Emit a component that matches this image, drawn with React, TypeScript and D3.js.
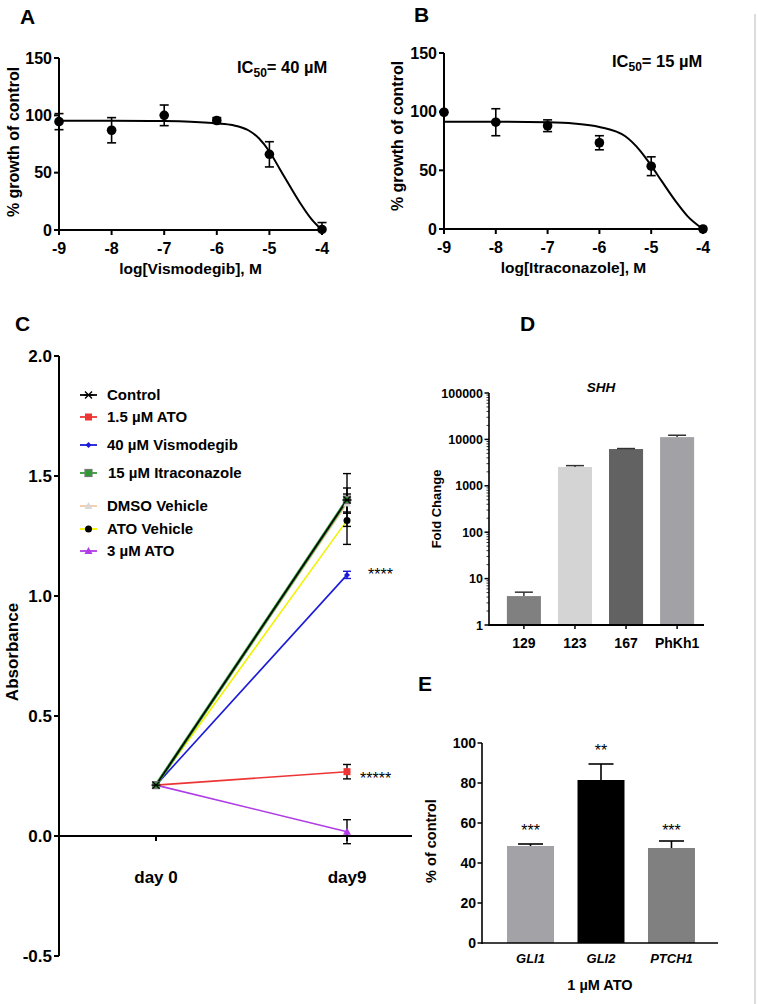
import React from "react";
import * as d3 from "d3";

const FONT = "Arial, 'Liberation Sans', Helvetica, sans-serif";

// ---------- Panel A (Vismodegib) ----------
const doseA = [-9, -8, -7, -6, -5, -4];
const growthA = [94.5, 87, 100, 95.5, 66, 0.5];
const errA = [7, 11, 9, 2.5, 11, 6];
const fitXA = [-9, -8, -7, -6.5, -6, -5.7, -5.4, -5.2, -5, -4.8, -4.6, -4.4, -4.2, -4];
const fitYA = [95.2, 95.2, 95, 94.5, 93, 91.5, 87, 80, 68.5, 53, 37.5, 22.5, 9.5, 0];

// ---------- Panel B (Itraconazole) ----------
const doseB = [-9, -8, -7, -6, -5, -4];
const growthB = [99.5, 91, 88, 73.5, 53.5, 0];
const errB = [0, 11.5, 5, 6, 8, 0];
const fitXB = [-9, -8, -7, -6.5, -6, -5.5, -5.2, -5, -4.8, -4.5, -4.3, -4];
const fitYB = [91.5, 91.5, 91, 90, 87, 79, 66, 54, 41, 22, 11, 0];

const xTicksAB = [-9, -8, -7, -6, -5, -4];
const yTicksAB = [0, 50, 100, 150];

// ---------- Panel C (Absorbance) ----------
const days = ["day 0", "day9"];
const cSeries = [
  "Control",
  "1.5 µM ATO",
  "40 µM Vismodegib",
  "15  µM Itraconazole",
  "DMSO Vehicle",
  "ATO Vehicle",
  "3 µM ATO",
];
const cColors = ["#000000", "#ee3535", "#1a1ad8", "#2f9a35", "#f4c9a4", "#f2f200", "#b03ce6"];
const cMarkers = ["x", "square", "diamond", "squareG", "triangleL", "circle", "triangle"];
const day0Values = [0.212, 0.212, 0.212, 0.212, 0.212, 0.212, 0.212];
const day9Values = [1.4, 0.268, 1.088, 1.4, 1.385, 1.315, 0.018];
const day9Errors = [0.11, 0.03, 0.015, 0.05, 0.04, 0.1, 0.05];
const cYTicks = [2.0, 1.5, 1.0, 0.5, 0.0, -0.5];
const cStars = [
  { series: "40 µM Vismodegib", text: "****" },
  { series: "1.5 µM ATO", text: "*****" },
];

// ---------- Panel D (SHH fold change) ----------
const cellLines = ["129", "123", "167", "PhKh1"];
const foldChange = [4.2, 2540, 6200, 11200];
const foldErr = [0.9, 180, 150, 1100];
const foldColors = ["#808080", "#d4d4d4", "#626262", "#a2a2a6"];
const dTicks = [1, 10, 100, 1000, 10000, 100000];

// ---------- Panel E (% of control) ----------
const genes = ["GLI1", "GLI2", "PTCH1"];
const pctControl = [48.5, 81.5, 47.5];
const pctErr = [1, 8, 3.5];
const geneStars = ["***", "**", "***"];
const geneColors = ["#a3a3a7", "#000000", "#808080"];
const eTicks = [0, 20, 40, 60, 80, 100];

function Marker({ type, x, y, color }: { type: string; x: number; y: number; color: string }) {
  const s = 3.5;
  switch (type) {
    case "x":
      return (
        <path
          d={`M${x - s},${y - s}L${x + s},${y + s}M${x - s},${y + s}L${x + s},${y - s}M${x - s - 1},${y}L${x + s + 1},${y}`}
          stroke={color}
          strokeWidth={1.4}
          fill="none"
        />
      );
    case "square":
      return <rect x={x - s} y={y - s} width={2 * s} height={2 * s} fill={color} />;
    case "squareG":
      return <rect x={x - s} y={y - s} width={2 * s} height={2 * s} fill={color} stroke="#777" strokeWidth={1.2} />;
    case "diamond":
      return <path d={`M${x},${y - 3}L${x + 3},${y}L${x},${y + 3}L${x - 3},${y}Z`} fill={color} />;
    case "circle":
      return <circle cx={x} cy={y} r={3.5} fill="#000" />;
    case "triangle":
      return <path d={`M${x},${y - 4}L${x + 4},${y + 3}L${x - 4},${y + 3}Z`} fill={color} />;
    case "triangleL":
      return <path d={`M${x},${y - 4}L${x + 4},${y + 3}L${x - 4},${y + 3}Z`} fill="#d8d8d8" />;
    default:
      return null;
  }
}

function DosePanel(props: {
  xs: number[];
  ys: number[];
  es: number[];
  fx: number[];
  fy: number[];
  xScale: d3.ScaleLinear<number, number>;
  yScale: d3.ScaleLinear<number, number>;
  xTitle: string;
  ic50: string;
  ic50X: number;
  ic50Y: number;
  yTitleX: number;
  yTitleY: number;
}) {
  const { xs, ys, es, fx, fy, xScale, yScale } = props;
  const x0 = xScale(xTicksAB[0]);
  const y0 = yScale(0);
  const line = d3
    .line<number>()
    .x((_, i) => xScale(fx[i]))
    .y((d) => yScale(d))
    .curve(d3.curveMonotoneX);
  return (
    <g>
      <line x1={x0} x2={x0} y1={y0 + 1} y2={yScale(150)} stroke="#000" strokeWidth={2} />
      <line x1={x0 - 1} x2={xScale(-4)} y1={y0} y2={y0} stroke="#000" strokeWidth={2} />
      {yTicksAB.map((t) => (
        <g key={t}>
          <line x1={x0 - 5} x2={x0} y1={yScale(t)} y2={yScale(t)} stroke="#000" strokeWidth={2} />
          <text x={x0 - 7} y={yScale(t)} dy="0.36em" textAnchor="end" fontSize={16} fontWeight="bold">
            {t}
          </text>
        </g>
      ))}
      {xTicksAB.map((t) => (
        <g key={t}>
          <line x1={xScale(t)} x2={xScale(t)} y1={y0} y2={y0 + 5} stroke="#000" strokeWidth={2} />
          <text x={xScale(t)} y={y0 + 24} textAnchor="middle" fontSize={16} fontWeight="bold">
            {t}
          </text>
        </g>
      ))}
      <text x={(x0 + xScale(-4)) / 2} y={y0 + 44} textAnchor="middle" fontSize={15.5} fontWeight="bold">
        {props.xTitle}
      </text>
      <text
        transform={`translate(${props.yTitleX},${props.yTitleY}) rotate(-90)`}
        textAnchor="middle"
        dy="0.36em"
        fontSize={16}
        fontWeight="bold"
      >
        % growth of control
      </text>
      <text x={props.ic50X} y={props.ic50Y} fontSize={16.5} fontWeight="bold">
        IC
        <tspan fontSize={12} dy={4}>
          50
        </tspan>
        <tspan dy={-4}>{"= " + props.ic50}</tspan>
      </text>
      <path d={line(fy) || ""} fill="none" stroke="#000" strokeWidth={2} />
      {xs.map((xv, i) => {
        const cx = xScale(xv);
        const lo = yScale(Math.max(0, ys[i] - es[i]));
        const hi = yScale(ys[i] + es[i]);
        return (
          <g key={i}>
            {es[i] > 0 && (
              <g stroke="#000" strokeWidth={1.6}>
                <line x1={cx} x2={cx} y1={lo} y2={hi} />
                <line x1={cx - 4.5} x2={cx + 4.5} y1={hi} y2={hi} />
                {ys[i] - es[i] > 0 && <line x1={cx - 4.5} x2={cx + 4.5} y1={lo} y2={lo} />}
              </g>
            )}
            <circle cx={cx} cy={yScale(ys[i])} r={4.8} fill="#000" />
          </g>
        );
      })}
    </g>
  );
}

export default function App() {
  // Panels A & B
  const xA = d3.scaleLinear().domain([-9, -4]).range([59, 322]);
  const yA = d3.scaleLinear().domain([0, 150]).range([230, 58]);
  const xB = d3.scaleLinear().domain([-9, -4]).range([444, 703]);
  const yB = d3.scaleLinear().domain([0, 150]).range([229, 53]);

  // Panel C
  const yC = d3.scaleLinear().domain([-0.5, 2.0]).range([956, 356]);
  const xC = d3.scalePoint<string>().domain(days).range([156, 347]);
  const cAxisX = 59;
  const legendY = [395, 417, 445, 473, 506, 529, 551];
  const drawOrder = [6, 1, 2, 4, 5, 3, 0];

  // Panel D
  const yD = d3.scaleLog().domain([1, 100000]).range([625, 393]);
  const xD = d3.scaleBand<string>().domain(cellLines).range([489, 712]).paddingInner(1 / 3).paddingOuter(0.35);
  const dAxisX = 489;
  const minorD: number[] = [];
  for (let dec = 1; dec < 100000; dec *= 10) {
    for (let m = 2; m <= 9; m++) minorD.push(dec * m);
  }

  // Panel E
  const yE = d3.scaleLinear().domain([0, 100]).range([943, 743]);
  const xE = d3.scaleBand<string>().domain(genes).range([482, 720]).paddingInner(1 / 3).paddingOuter(0.355);
  const eAxisX = 482;

  return (
    <div style={{ position: "absolute", left: 0, top: 0, width: 758, height: 1004, background: "#fff" }}>
      <svg width={758} height={1004} style={{ display: "block" }} fontFamily={FONT}>
        <rect width={758} height={1004} fill="#fff" />
        <line x1={755} x2={755} y1={14} y2={1004} stroke="#dcdcdc" strokeWidth={2} />

        {/* Panel labels */}
        <text x={20} y={24} fontSize={21} fontWeight="bold">A</text>
        <text x={414} y={22} fontSize={21} fontWeight="bold">B</text>
        <text x={15} y={331} fontSize={21} fontWeight="bold">C</text>
        <text x={520} y={331} fontSize={21} fontWeight="bold">D</text>
        <text x={418} y={691} fontSize={21} fontWeight="bold">E</text>

        <DosePanel
          xs={doseA}
          ys={growthA}
          es={errA}
          fx={fitXA}
          fy={fitYA}
          xScale={xA}
          yScale={yA}
          xTitle="log[Vismodegib], M"
          ic50="40 µM"
          ic50X={237}
          ic50Y={73}
          yTitleX={13}
          yTitleY={142}
        />
        <DosePanel
          xs={doseB}
          ys={growthB}
          es={errB}
          fx={fitXB}
          fy={fitYB}
          xScale={xB}
          yScale={yB}
          xTitle="log[Itraconazole], M"
          ic50="15 µM"
          ic50X={612}
          ic50Y={67}
          yTitleX={397}
          yTitleY={136}
        />

        {/* Panel C */}
        <g>
          <line x1={cAxisX} x2={cAxisX} y1={yC(-0.5)} y2={yC(2.0)} stroke="#000" strokeWidth={2} />
          {cYTicks.map((t) => (
            <g key={t}>
              <line x1={cAxisX - 5} x2={cAxisX} y1={yC(t)} y2={yC(t)} stroke="#000" strokeWidth={2} />
              <text x={cAxisX - 7} y={yC(t)} dy="0.36em" textAnchor="end" fontSize={17} fontWeight="bold">
                {t.toFixed(1)}
              </text>
            </g>
          ))}
          <line x1={cAxisX} x2={412} y1={yC(0)} y2={yC(0)} stroke="#000" strokeWidth={2} />
          {days.map((d) => (
            <g key={d}>
              <line x1={xC(d)!} x2={xC(d)!} y1={yC(0)} y2={yC(0) + 5} stroke="#000" strokeWidth={2} />
              <text x={xC(d)!} y={yC(0) + 47} textAnchor="middle" fontSize={17} fontWeight="bold">
                {d}
              </text>
            </g>
          ))}
          <text
            transform={`translate(12,${652}) rotate(-90)`}
            textAnchor="middle"
            dy="0.36em"
            fontSize={17}
            fontWeight="bold"
          >
            Absorbance
          </text>

          {/* series lines */}
          {drawOrder.map((i) => (
            <line
              key={"l" + i}
              x1={xC(days[0])!}
              y1={yC(day0Values[i])}
              x2={xC(days[1])!}
              y2={yC(day9Values[i])}
              stroke={cColors[i]}
              strokeWidth={i === 3 ? 3.2 : i === 0 ? 1.6 : 1.6}
            />
          ))}
          {/* error bars day9 */}
          {drawOrder.map((i) => {
            const cx = xC(days[1])!;
            const hi = yC(day9Values[i] + day9Errors[i]);
            const lo = yC(day9Values[i] - day9Errors[i]);
            const col = i === 2 ? cColors[2] : "#000";
            return (
              <g key={"e" + i} stroke={col} strokeWidth={1.4}>
                <line x1={cx} x2={cx} y1={lo} y2={hi} />
                <line x1={cx - 4} x2={cx + 4} y1={hi} y2={hi} />
                <line x1={cx - 4} x2={cx + 4} y1={lo} y2={lo} />
              </g>
            );
          })}
          {/* markers */}
          {drawOrder.map((i) => (
            <g key={"m" + i}>
              <Marker type={cMarkers[i]} x={xC(days[0])!} y={yC(day0Values[i])} color={cColors[i]} />
              <Marker type={cMarkers[i]} x={xC(days[1])!} y={yC(day9Values[i])} color={cColors[i]} />
            </g>
          ))}
          {/* significance stars */}
          {cStars.map((s, k) => {
            const i = cSeries.indexOf(s.series);
            return (
              <text
                key={k}
                x={xC(days[1])! + (k === 0 ? 21 : 13)}
                y={yC(day9Values[i]) + (k === 0 ? 5 : 12)}
                fontSize={16}
              >
                {s.text}
              </text>
            );
          })}
          {/* legend */}
          {cSeries.map((name, i) => (
            <g key={"lg" + i}>
              <line x1={80} x2={97} y1={legendY[i]} y2={legendY[i]} stroke={cColors[i]} strokeWidth={1.8} />
              <Marker type={cMarkers[i]} x={88.5} y={legendY[i]} color={cColors[i]} />
              <text x={i === 3 ? 108 : 107} y={legendY[i]} dy="0.36em" fontSize={15} fontWeight="bold">
                {name}
              </text>
            </g>
          ))}
        </g>

        {/* Panel D */}
        <g>
          <text x={601} y={392} textAnchor="middle" fontSize={13.5} fontWeight="bold" fontStyle="italic">
            SHH
          </text>
          {cellLines.map((c, i) => {
            const x = xD(c)!;
            const w = xD.bandwidth();
            const top = yD(foldChange[i]);
            const cap = yD(foldChange[i] + foldErr[i]);
            return (
              <g key={c}>
                <rect x={x} y={top} width={w} height={yD(1) - top} fill={foldColors[i]} />
                <g stroke="#333" strokeWidth={1.5}>
                  <line x1={x + w / 2} x2={x + w / 2} y1={top} y2={cap} />
                  <line x1={x + w / 2 - 9} x2={x + w / 2 + 9} y1={cap} y2={cap} />
                </g>
                <text x={x + w / 2} y={yD(1) + 23} textAnchor="middle" fontSize={14} fontWeight="bold">
                  {c}
                </text>
              </g>
            );
          })}
          <line x1={dAxisX} x2={dAxisX} y1={yD(1) + 1} y2={yD(100000)} stroke="#000" strokeWidth={1.6} />
          <line x1={dAxisX} x2={704} y1={yD(1)} y2={yD(1)} stroke="#000" strokeWidth={1.8} />
          {minorD.map((m) => (
            <line key={m} x1={dAxisX - 2.5} x2={dAxisX} y1={yD(m)} y2={yD(m)} stroke="#000" strokeWidth={0.8} />
          ))}
          {dTicks.map((t) => (
            <g key={t}>
              <line x1={dAxisX - 4.5} x2={dAxisX} y1={yD(t)} y2={yD(t)} stroke="#000" strokeWidth={1.5} />
              <text x={dAxisX - 6} y={yD(t)} dy="0.36em" textAnchor="end" fontSize={12.5} fontWeight="bold">
                {t}
              </text>
            </g>
          ))}
          {cellLines.map((c) => (
            <line
              key={"t" + c}
              x1={xD(c)! + xD.bandwidth() / 2}
              x2={xD(c)! + xD.bandwidth() / 2}
              y1={yD(1)}
              y2={yD(1) + 4}
              stroke="#000"
              strokeWidth={1.5}
            />
          ))}
          <text
            transform={`translate(436,${509}) rotate(-90)`}
            textAnchor="middle"
            dy="0.36em"
            fontSize={13}
            fontWeight="bold"
          >
            Fold Change
          </text>
        </g>

        {/* Panel E */}
        <g>
          {genes.map((g, i) => {
            const x = xE(g)!;
            const w = xE.bandwidth();
            const top = yE(pctControl[i]);
            const cap = yE(pctControl[i] + pctErr[i]);
            return (
              <g key={g}>
                <rect x={x} y={top} width={w} height={yE(0) - top} fill={geneColors[i]} />
                <g stroke="#000" strokeWidth={1.6}>
                  <line x1={x + w / 2} x2={x + w / 2} y1={top} y2={cap} />
                  <line x1={x + w / 2 - 12.5} x2={x + w / 2 + 12.5} y1={cap} y2={cap} />
                </g>
                <text x={x + w / 2} y={i === 1 ? cap - 8 : 836} textAnchor="middle" fontSize={16}>
                  {geneStars[i]}
                </text>
                <text
                  x={x + w / 2}
                  y={yE(0) + 20}
                  textAnchor="middle"
                  fontSize={13}
                  fontWeight="bold"
                  fontStyle="italic"
                >
                  {g}
                </text>
              </g>
            );
          })}
          <line x1={eAxisX} x2={eAxisX} y1={yE(0) + 1} y2={yE(100)} stroke="#000" strokeWidth={1.6} />
          <line x1={eAxisX} x2={718} y1={yE(0)} y2={yE(0)} stroke="#000" strokeWidth={1.6} />
          {eTicks.map((t) => (
            <g key={t}>
              <line x1={eAxisX - 4.5} x2={eAxisX} y1={yE(t)} y2={yE(t)} stroke="#000" strokeWidth={1.5} />
              <text x={eAxisX - 6} y={yE(t)} dy="0.36em" textAnchor="end" fontSize={14} fontWeight="bold">
                {t}
              </text>
            </g>
          ))}
          <text x={(eAxisX + 718) / 2 + 0} y={990} textAnchor="middle" fontSize={14.5} fontWeight="bold">
            1 µM ATO
          </text>
          <text
            transform={`translate(431,${841}) rotate(-90)`}
            textAnchor="middle"
            dy="0.36em"
            fontSize={14.5}
            fontWeight="bold"
          >
            % of control
          </text>
        </g>
      </svg>
    </div>
  );
}
